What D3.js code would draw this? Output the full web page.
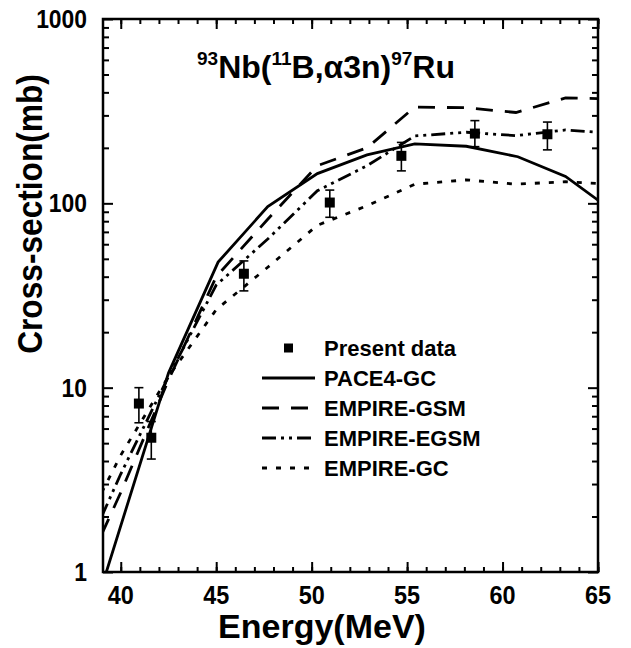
<!DOCTYPE html>
<html>
<head>
<meta charset="utf-8">
<script src="https://cdn.jsdelivr.net/npm/d3@7"></script>
<style>
  body { margin: 0; background: #fff; }
  text { font-family: "Liberation Sans", Arial, sans-serif; font-weight: bold; fill: #000; }
</style>
</head>
<body>
<svg id="chart" width="631" height="648"></svg>
<script>
// measured points (Present data)
var energyExp = [40.95, 41.6, 46.45, 50.95, 54.7, 58.55, 62.35];
var sigmaExp  = [8.2, 5.35, 41.5, 101, 181, 239, 237];
var errLow    = [6.45, 4.1, 33.5, 84, 150, 203, 195];
var errHigh   = [10, 6.55, 48.7, 118, 214, 281, 276];

// PACE4 calculation
var pace4E = [39, 42.5, 45.1, 47.7, 50.3, 52.9, 55.4, 58.1, 60.8, 63.3, 65];
var pace4S = [0.83, 12, 48, 96, 145, 183, 210, 204, 179, 140, 104];

// EMPIRE calculations
var empireE = [39, 40, 42.5, 45, 47.7, 50.3, 52.9, 55.4, 58.1, 60.7, 63.3, 65];
var gsmS    = [1.6, 2.7, 11, 40, 82, 160, 200, 333, 330, 311, 373, 370];
var egsmS   = [2.0, 3.4, 11.5, 36, 64, 117, 160, 232, 243, 233, 250, 243];
var gcS     = [2.7, 4.3, 11.5, 26.5, 45, 76, 97, 127, 134, 127, 131, 128];

var xTicks = [40, 45, 50, 55, 60, 65];
var yTicks = [1, 10, 100, 1000];
var legendLabels = ["Present data", "PACE4-GC", "EMPIRE-GSM", "EMPIRE-EGSM", "EMPIRE-GC"];

var svg = d3.select("#chart");
var pLeft = 103, pRight = 598, pTop = 19, pBottom = 572;

var x = d3.scaleLinear().domain([39.07, 65]).range([pLeft, pRight]);
var y = d3.scaleLog().domain([1, 1000]).range([pBottom, pTop]);

svg.append("rect").attr("width", 631).attr("height", 648).attr("fill", "#fff");

svg.append("clipPath").attr("id", "plotclip")
  .append("rect").attr("x", pLeft).attr("y", pTop)
  .attr("width", pRight - pLeft).attr("height", pBottom - pTop);

var xMinor = d3.range(40, 66, 1);
var yMinor = [];
[1, 10, 100].forEach(function(d) { for (var k = 2; k <= 9; k++) yMinor.push(d * k); });

// inner ticks on all four sides
function ticks(g, axis, len) {
  g.call(axis.tickSize(len).tickFormat(""));
  g.select(".domain").remove();
  g.selectAll("line").attr("stroke", "#000").attr("stroke-width", 2);
}
svg.append("g").attr("transform", "translate(0," + pBottom + ")")
  .call(ticks, d3.axisTop(x).tickValues(xMinor), 5);
svg.append("g").attr("transform", "translate(0," + pBottom + ")")
  .call(ticks, d3.axisTop(x).tickValues(xTicks), 10);
svg.append("g").attr("transform", "translate(0," + pTop + ")")
  .call(ticks, d3.axisBottom(x).tickValues(xMinor), 5);
svg.append("g").attr("transform", "translate(0," + pTop + ")")
  .call(ticks, d3.axisBottom(x).tickValues(xTicks), 10);
svg.append("g").attr("transform", "translate(" + pLeft + ",0)")
  .call(ticks, d3.axisRight(y).tickValues(yMinor), 6);
svg.append("g").attr("transform", "translate(" + pLeft + ",0)")
  .call(ticks, d3.axisRight(y).tickValues(yTicks), 10);
svg.append("g").attr("transform", "translate(" + pRight + ",0)")
  .call(ticks, d3.axisLeft(y).tickValues(yMinor), 6);
svg.append("g").attr("transform", "translate(" + pRight + ",0)")
  .call(ticks, d3.axisLeft(y).tickValues(yTicks), 10);

svg.append("rect").attr("x", pLeft).attr("y", pTop)
  .attr("width", pRight - pLeft).attr("height", pBottom - pTop)
  .attr("fill", "none").attr("stroke", "#000").attr("stroke-width", 2.5);

// tick labels (slightly condensed like the original)
svg.append("g").selectAll("text").data(xTicks).enter().append("text")
  .attr("transform", function(d) { return "translate(" + x(d) + ",604) scale(0.9,1)"; })
  .attr("text-anchor", "middle").attr("font-size", 26)
  .text(function(d) { return d; });
svg.append("g").selectAll("text").data(yTicks).enter().append("text")
  .attr("transform", function(d) { return "translate(87," + (y(d) + 9) + ") scale(0.88,1)"; })
  .attr("text-anchor", "end").attr("font-size", 26)
  .text(function(d) { return d; });

svg.append("text").attr("x", 322).attr("y", 638).attr("text-anchor", "middle")
  .attr("font-size", 34).text("Energy(MeV)");
svg.append("text").attr("transform", "translate(42,214) rotate(-90) scale(0.88,1)")
  .attr("text-anchor", "middle").attr("font-size", 36).text("Cross-section(mb)");

// title with superscripts
var title = svg.append("text").attr("x", 197).attr("y", 78).attr("font-size", 32);
[["93", true], ["Nb(", false], ["11", true], ["B,\u03b13n)", false], ["97", true], ["Ru", false]]
  .forEach(function(p) {
    var t = title.append("tspan").text(p[0]);
    if (p[1]) t.attr("font-size", 19).attr("dy", -13);
    else t.attr("dy", 13);
  });

var styles = [
  { s: pace4S, e: pace4E, dash: null },
  { s: gsmS, e: empireE, dash: "17,12" },
  { s: egsmS, e: empireE, dash: "14,5,3,5,3,5" },
  { s: gcS, e: empireE, dash: "5,9" }
];

var line = d3.line().x(function(d) { return x(d[0]); }).y(function(d) { return y(d[1]); });
var plot = svg.append("g").attr("clip-path", "url(#plotclip)");
styles.forEach(function(c) {
  plot.append("path")
    .attr("d", line(d3.zip(c.e, c.s)))
    .attr("fill", "none").attr("stroke", "#000").attr("stroke-width", 2.8)
    .attr("stroke-dasharray", c.dash);
});

// data with error bars
var pts = svg.append("g").selectAll("g").data(d3.range(energyExp.length)).enter().append("g");
pts.append("line")
  .attr("x1", function(i) { return x(energyExp[i]); }).attr("x2", function(i) { return x(energyExp[i]); })
  .attr("y1", function(i) { return y(errLow[i]); }).attr("y2", function(i) { return y(errHigh[i]); })
  .attr("stroke", "#000").attr("stroke-width", 1.6);
[errLow, errHigh].forEach(function(arr) {
  pts.append("line")
    .attr("x1", function(i) { return x(energyExp[i]) - 4.5; }).attr("x2", function(i) { return x(energyExp[i]) + 4.5; })
    .attr("y1", function(i) { return y(arr[i]); }).attr("y2", function(i) { return y(arr[i]); })
    .attr("stroke", "#000").attr("stroke-width", 1.6);
});
pts.append("rect")
  .attr("x", function(i) { return x(energyExp[i]) - 5; })
  .attr("y", function(i) { return y(sigmaExp[i]) - 5; })
  .attr("width", 10).attr("height", 10).attr("fill", "#000");

// legend
var leg = svg.append("g").attr("transform", "translate(262,348)");
leg.append("rect").attr("x", 22).attr("y", -4.5).attr("width", 9).attr("height", 9).attr("fill", "#000");
styles.forEach(function(c, i) {
  leg.append("line").attr("x1", 0).attr("x2", 53)
    .attr("y1", 30 * (i + 1)).attr("y2", 30 * (i + 1))
    .attr("stroke", "#000").attr("stroke-width", 2.8).attr("stroke-dasharray", c.dash);
});
leg.selectAll("text.lab").data(legendLabels).enter().append("text")
  .attr("x", 62).attr("y", function(d, i) { return 30 * i + 8; })
  .attr("font-size", 22).text(function(d) { return d; });
</script>
</body>
</html>
